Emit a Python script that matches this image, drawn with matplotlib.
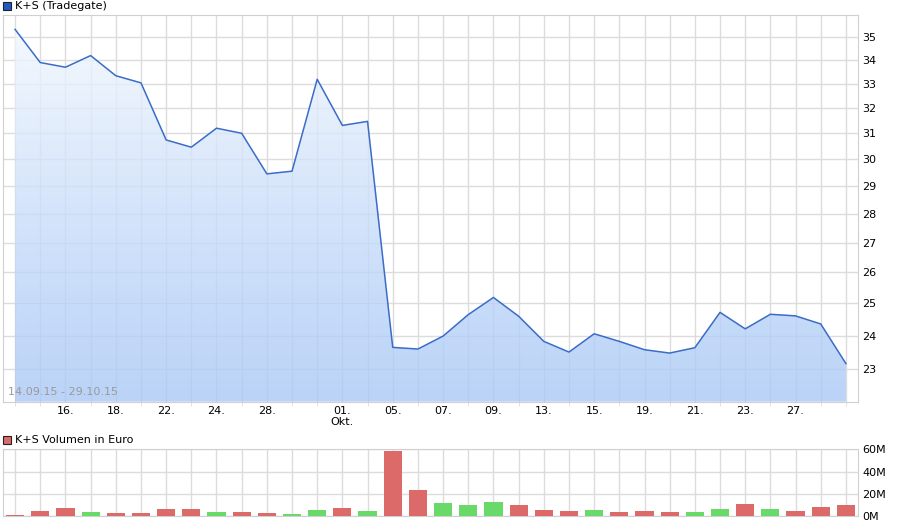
import numpy as np
import matplotlib
matplotlib.use("Agg")
import matplotlib.pyplot as plt
from matplotlib.colors import LinearSegmentedColormap
from matplotlib.patches import Rectangle
from matplotlib.ticker import FixedLocator, NullLocator

dates = ['14.09', '15.09', '16.09', '17.09', '18.09',
         '21.09', '22.09', '23.09', '24.09', '25.09',
         '28.09', '29.09', '30.09', '01.10', '02.10',
         '05.10', '06.10', '07.10', '08.10', '09.10',
         '12.10', '13.10', '14.10', '15.10', '16.10',
         '19.10', '20.10', '21.10', '22.10', '23.10',
         '26.10', '27.10', '28.10', '29.10']

prices = [35.35, 33.90, 33.70, 34.20, 33.34,
          33.04, 30.74, 30.46, 31.20, 31.00,
          29.45, 29.55, 33.19, 31.31, 31.47,
          23.65, 23.60, 23.99, 24.65, 25.19,
          24.60, 23.83, 23.51, 24.06, 23.83,
          23.58, 23.48, 23.64, 24.72, 24.21,
          24.66, 24.61, 24.36, 23.17]

# volume in Mio. Euro
volumes = [1.2, 4.8, 7.8, 3.9, 3.0,
           3.0, 6.6, 6.6, 3.9, 3.9,
           3.0, 2.1, 5.7, 7.5, 4.8,
           58.5, 23.6, 11.9, 10.1, 12.8,
           10.1, 5.7, 4.8, 5.7, 3.9,
           4.8, 3.9, 3.9, 6.6, 11.0,
           6.6, 4.8, 8.4, 10.1]

vol_dir = ['d', 'd', 'd', 'u', 'd',
           'd', 'd', 'd', 'u', 'd',
           'd', 'u', 'u', 'd', 'u',
           'd', 'd', 'u', 'u', 'u',
           'd', 'd', 'd', 'u', 'd',
           'd', 'd', 'u', 'u', 'd',
           'u', 'd', 'd', 'd']

labelled = ['16.09', '18.09', '22.09', '24.09', '28.09', '01.10', '05.10',
            '07.10', '09.10', '13.10', '15.10', '19.10', '21.10', '23.10',
            '27.10']

price_ticks = [23, 24, 25, 26, 27, 28, 29, 30, 31, 32, 33, 34, 35]
vol_ticks = [0, 20, 40, 60]

grid_col = '#dcdcdc'
line_col = '#3a6cc8'
red = '#db6a69'
green = '#69d96a'

x = np.arange(len(dates))
xlim = (-0.48, len(dates) - 0.52)
ylim = (22.08, 36.0)

fig = plt.figure(figsize=(9, 5.26), dpi=100)
ax = fig.add_axes([3/900, 1 - 401.7/526, 855/900, 386.7/526])
axv = fig.add_axes([3/900, 1 - 516.3/526, 855/900, 67/526])

# --- price panel ---
ax.set_yscale('log')
ax.set_axisbelow(True)

cmap = LinearSegmentedColormap.from_list('fill', ['#aac9f6', '#f6faff'])
grad = np.linspace(0, 1, 256).reshape(-1, 1)
img = ax.imshow(grad, cmap=cmap, aspect='auto', origin='lower', alpha=0.8,
                extent=[xlim[0], xlim[1], ylim[0], ylim[1]], zorder=1)
poly = ax.fill_between(x, prices, ylim[0], color='none', lw=0)
img.set_clip_path(poly.get_paths()[0], transform=ax.transData)
ax.set_ylim(*ylim)
ax.set_xlim(*xlim)

ax.plot(x, prices, color=line_col, lw=1.1, zorder=3)

ax.yaxis.set_major_locator(FixedLocator(price_ticks))
ax.yaxis.set_minor_locator(NullLocator())
ax.set_yticklabels([str(t) for t in price_ticks])
ax.yaxis.tick_right()

tick_pos = [dates.index(d) for d in labelled]
tick_lab = [d.split('.')[0] + '.' + ('\nOkt.' if d == '01.10' else '') for d in labelled]
ax.set_xticks(x, minor=True)
ax.set_xticks(tick_pos)
ax.set_xticklabels(tick_lab)

ax.grid(True, which='both', axis='x', color=grid_col, lw=1)
ax.grid(True, which='major', axis='y', color=grid_col, lw=1)

ax.tick_params(axis='y', which='both', length=0, pad=3, labelsize=8)
ax.tick_params(axis='x', which='major', length=0, pad=3, labelsize=8)
ax.tick_params(axis='x', which='minor', length=3, color=grid_col, direction='out')
for s in ax.spines.values():
    s.set_color('#d0d0d0')

ax.text(0.006, 0.012, '14.09.15 - 29.10.15', transform=ax.transAxes,
        fontsize=8, color='#9a9a9a', va='bottom', ha='left', zorder=4)

fig.patches.append(Rectangle((3/900, 1 - 10/526), 8/900, 8/526, transform=fig.transFigure,
                             facecolor='#1f5bc4', edgecolor='#222222', lw=0.8))
fig.text(15/900, 1 - 6/526, 'K+S (Tradegate)', fontsize=8, va='center', ha='left')

# --- volume panel ---
bar_cols = [red if d == 'd' else green for d in vol_dir]
axv.bar(x, volumes, width=0.72, color=bar_cols, zorder=3)
axv.set_xlim(*xlim)
axv.set_ylim(0, 60)
axv.set_yticks(vol_ticks)
axv.set_yticklabels([f'{t}M' for t in vol_ticks])
axv.yaxis.tick_right()
axv.set_xticks(x)
axv.set_xticklabels([])
axv.grid(True, color=grid_col, lw=1, zorder=1)
axv.tick_params(axis='both', length=0, labelsize=8, pad=3)
for s in axv.spines.values():
    s.set_color('#d0d0d0')

fig.patches.append(Rectangle((3/900, 1 - 444/526), 8/900, 8/526, transform=fig.transFigure,
                             facecolor=red, edgecolor='#222222', lw=0.8))
fig.text(15/900, 1 - 440/526, 'K+S Volumen in Euro', fontsize=8, va='center', ha='left')

fig.savefig('out.png', dpi=100)
